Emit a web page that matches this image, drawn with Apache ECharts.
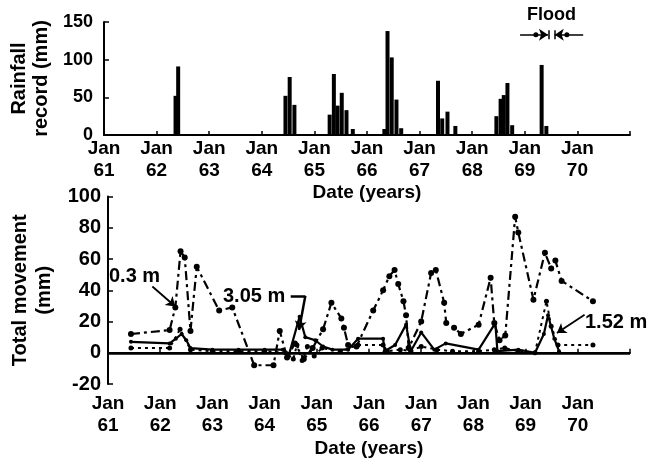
<!DOCTYPE html>
<html>
<head>
<meta charset="utf-8">
<title>Rainfall and movement</title>
<script src="https://cdn.jsdelivr.net/npm/echarts@6/dist/echarts.min.js"></script>
<style>
  html, body { margin: 0; padding: 0; background: #fff; }
  #main { width: 657px; height: 462px; }
</style>
</head>
<body>
<div id="main"></div>
<script>
// tick labels (Jan of each year)
const yearLabels = ['61', '62', '63', '64', '65', '66', '67', '68', '69', '70'];

// rainfall record, decimal year / mm
const rainYears = [1962.36, 1962.41,
  1964.45, 1964.53, 1964.62,
  1965.29, 1965.37, 1965.44, 1965.52, 1965.61, 1965.73,
  1966.33, 1966.39, 1966.47, 1966.56, 1966.65,
  1967.35, 1967.43, 1967.53, 1967.68,
  1968.46, 1968.54, 1968.60, 1968.67, 1968.76,
  1969.32, 1969.41];
const rainMM = [52, 91,
  52, 77, 40,
  27, 81, 39, 56, 33, 8,
  8, 138, 103, 47, 9,
  72, 22, 31, 12,
  25, 48, 53, 69, 13,
  93, 12];

// total movement at 0.3 m
const years03 = [1961.44, 1962.18, 1962.29, 1962.39, 1962.47, 1962.58, 1962.70, 1963.13, 1963.38, 1963.80,
  1964.17, 1964.29, 1964.43, 1964.58, 1964.75, 1964.92, 1965.12, 1965.28, 1965.47, 1965.52,
  1965.60, 1965.76, 1966.08, 1966.27, 1966.39, 1966.49, 1966.56, 1966.66, 1966.71, 1966.76,
  1967.00, 1967.19, 1967.28, 1967.44, 1967.48, 1967.63, 1967.76, 1968.10, 1968.33, 1968.40,
  1968.50, 1968.61, 1968.80, 1968.86, 1969.15, 1969.37, 1969.49, 1969.57, 1969.69, 1970.29];
const vals03 = [12, 14.5, 29, 65, 61, 14, 55, 27, 29, -8,
  -8, 14, -3, 6, -4, 3, 15, 32, 22, 16,
  5, 4, 27, 40, 49, 53, 44, 33, 24, 3,
  20, 51, 53, 32, 19, 16, 12, 18, 48, 19,
  8, 11, 87, 77, 34, 64, 54, 59, 46, 33];

// total movement at 3.05 m
const years305 = [1961.44, 1962.18, 1962.30, 1962.41, 1962.50, 1962.58, 1963.0, 1963.5, 1964.0, 1964.35,
  1964.46, 1964.67, 1964.78, 1964.97, 1965.12, 1965.30, 1965.60, 1965.79, 1966.27, 1966.30,
  1966.50, 1966.71, 1966.80, 1967.00, 1967.25, 1967.47, 1968.10, 1968.42, 1968.46, 1968.86,
  1969.18, 1969.35, 1969.43, 1969.55, 1969.64];
const vals305 = [7, 6, 9, 12, 8, 3, 2, 2, 2, 2,
  -2, 23, 10, 8, 4, 2, 2, 9, 9, 1,
  5, 18, 1, 13, 2, 6, 2, 19, 1, 2,
  0, 12, 24, 9, 1];

// total movement at 1.52 m
const years152 = [1961.44, 1962.18, 1962.38, 1962.58, 1963.0, 1963.5, 1964.0, 1964.4, 1964.55, 1964.62,
  1964.72, 1964.82, 1964.95, 1965.1, 1965.45, 1965.79, 1966.27, 1966.35, 1966.6, 1966.8,
  1967.0, 1967.3, 1967.6, 1968.1, 1968.4, 1968.6, 1968.86, 1969.18, 1969.40, 1969.49,
  1969.62, 1970.29];
const vals152 = [3, 3, 15, 2, 1, 1, 1, 0, -4, 5,
  -5, 4, -2, 3, 1, 5, 5, 1, 2, 1,
  4, 2, 1, 1, 2, 3, 1, 0, 33, 17,
  5, 5];

const font = 'Liberation Sans, Arial, sans-serif';
const black = '#000';

function pairs(xs, ys) {
  return xs.map((x, i) => [x, ys[i]]);
}

function xLabel(v) {
  const i = Math.round(v - 1961);
  return i >= 0 && i < yearLabels.length ? 'Jan\n' + yearLabels[i] : '';
}

function xAxisFor(gridIndex, margin, nameGap) {
  return {
    gridIndex: gridIndex,
    type: 'value',
    min: 1961,
    max: 1971,
    interval: 1,
    name: 'Date (years)',
    nameLocation: 'middle',
    nameGap: nameGap,
    nameTextStyle: { fontFamily: font, fontWeight: 'bold', fontSize: 19, color: black },
    axisLine: { lineStyle: { color: black, width: 2 } },
    axisTick: { inside: true, length: 4, lineStyle: { color: black, width: 1.5 } },
    splitLine: { show: false },
    axisLabel: {
      formatter: xLabel, margin: margin, lineHeight: 22,
      fontFamily: font, fontWeight: 'bold', fontSize: 19, color: black
    }
  };
}

function yAxisFor(gridIndex, min, max, interval, name, nameGap, labelSize, labelMargin, nameLine) {
  return {
    gridIndex: gridIndex,
    type: 'value',
    min: min,
    max: max,
    interval: interval,
    name: name,
    nameLocation: 'middle',
    nameGap: nameGap,
    nameTextStyle: { fontFamily: font, fontWeight: 'bold', fontSize: 20, color: black, lineHeight: nameLine },
    axisLine: { show: true, lineStyle: { color: black, width: 2 } },
    axisTick: { show: true, inside: true, length: 5, lineStyle: { color: black, width: 1.5 } },
    splitLine: { show: false },
    axisLabel: { margin: labelMargin, fontFamily: font, fontWeight: 'bold', fontSize: labelSize, color: black }
  };
}

// small arrow / leader segments, in data coords
function seg(x1, y1, x2, y2, arrow) {
  return [
    { coord: [x1, y1], symbol: 'none' },
    { coord: [x2, y2], symbol: arrow ? 'arrow' : 'none', symbolSize: arrow ? 9 : 0 }
  ];
}

const chart = echarts.init(document.getElementById('main'), null, { renderer: 'canvas' });

let option = {
  animation: false,
  backgroundColor: '#fff',
  grid: [
    { left: 102, top: 22, width: 528, height: 113 },
    { left: 104, top: 196.5, width: 526, height: 187.5 }
  ],
  xAxis: [xAxisFor(0, 3, 46), xAxisFor(1, 9, 55)],
  yAxis: [
    yAxisFor(0, 0, 150, 50, 'Rainfall\nrecord (mm)', 52, 18, 11, 22),
    yAxisFor(1, -20, 100, 20, 'Total movement\n(mm)', 52, 20, 7, 24)
  ],
  graphic: [
    { type: 'text', left: 109, top: 266, style: { text: '0.3 m', font: 'bold 20px ' + font, fill: black } },
    { type: 'text', left: 223, top: 286, style: { text: '3.05 m', font: 'bold 20px ' + font, fill: black } },
    { type: 'text', left: 585, top: 312, style: { text: '1.52 m', font: 'bold 20px ' + font, fill: black } },
    { type: 'text', left: 527, top: 6, style: { text: 'Flood', font: 'bold 18px ' + font, fill: black } }
  ],
  series: [
    {
      name: 'Rainfall',
      type: 'bar',
      xAxisIndex: 0,
      yAxisIndex: 0,
      barWidth: 4,
      itemStyle: { color: black },
      data: pairs(rainYears, rainMM),
      markLine: {
        silent: true,
        label: { show: false },
        lineStyle: { color: black, width: 1.5, type: 'solid' },
        data: [
          seg(1968.91, 133, 1969.44, 133, true),
          seg(1970.11, 133, 1969.57, 133, true),
          seg(1969.45, 127, 1969.45, 139, false),
          seg(1969.56, 127, 1969.56, 139, false)
        ]
      },
      markPoint: {
        silent: true,
        symbol: 'circle',
        symbolSize: 5,
        itemStyle: { color: black },
        label: { show: false },
        data: [{ coord: [1969.21, 133] }, { coord: [1969.80, 133] }]
      }
    },
    {
      name: '3.05 m',
      type: 'line',
      xAxisIndex: 1,
      yAxisIndex: 1,
      symbol: 'circle',
      symbolSize: 4,
      itemStyle: { color: black },
      lineStyle: { color: black, width: 2.2, type: 'solid' },
      data: pairs(years305, vals305),
      markLine: {
        silent: true,
        symbol: 'none',
        label: { show: false },
        lineStyle: { color: black, width: 2.5, type: 'solid' },
        data: [
          { yAxis: 0 },
          seg(1964.50, 36.4, 1964.78, 36.4, false),
          seg(1964.78, 36.4, 1964.66, 14.5, true)
        ]
      }
    },
    {
      name: '1.52 m',
      type: 'line',
      xAxisIndex: 1,
      yAxisIndex: 1,
      symbol: 'circle',
      symbolSize: 5,
      itemStyle: { color: black },
      lineStyle: { color: black, width: 2, type: [3, 4] },
      data: pairs(years152, vals152),
      markLine: {
        silent: true,
        label: { show: false },
        lineStyle: { color: black, width: 1.8, type: 'solid' },
        data: [seg(1970.13, 24.3, 1969.60, 12.6, true)]
      }
    },
    {
      name: '0.3 m',
      type: 'line',
      xAxisIndex: 1,
      yAxisIndex: 1,
      symbol: 'circle',
      symbolSize: 6,
      itemStyle: { color: black },
      lineStyle: { color: black, width: 2.2, type: [9, 4, 3, 4] },
      data: pairs(years03, vals03),
      markLine: {
        silent: true,
        label: { show: false },
        lineStyle: { color: black, width: 1.8, type: 'solid' },
        data: [seg(1961.85, 42.4, 1962.29, 29.6, true)]
      }
    }
  ]
};

chart.setOption(option);
</script>
</body>
</html>
